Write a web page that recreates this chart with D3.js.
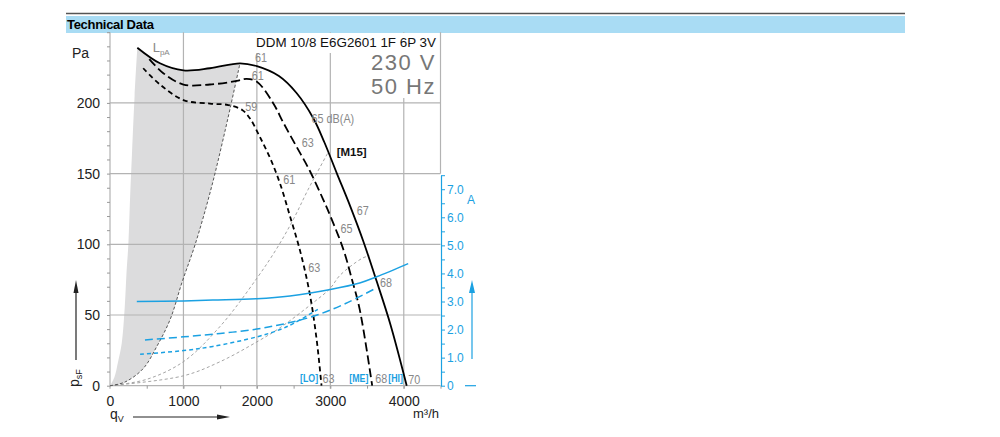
<!DOCTYPE html>
<html>
<head>
<meta charset="utf-8">
<script src="https://cdn.jsdelivr.net/npm/d3@7"></script>
<style>
body { margin: 0; background: #fff; }
svg { display: block; font-family: "Liberation Sans", Arial, sans-serif; }
</style>
</head>
<body>
<svg id="chart" width="1000" height="437"></svg>
<script>
// axis ticks
const qTicks = [0, 1000, 2000, 3000, 4000];
const paTicks = [0, 50, 100, 150, 200];
const ampTicks = [0, 1, 2, 3, 4, 5, 6, 7];

// pressure curves [m3/h, Pa]
const hiCurve = [[372, 239], [680, 228], [1000, 223], [1360, 224.5], [1770, 228], [2000, 226], [2300, 219], [2540, 207],
    [2770, 189], [2920, 172], [3090, 150], [3270, 127], [3450, 102], [3630, 74], [3820, 43], [4040, 0]];
const meCurve = [[535, 231], [726, 221], [1000, 213], [1360, 213], [1725, 215.5], [1860, 217], [2000, 215], [2220, 200],
    [2360, 186], [2540, 169], [2720, 152], [2900, 132], [3000, 120], [3180, 96], [3300, 74], [3400, 54], [3570, 0]];
const loCurve = [[452, 224.5], [680, 213], [1000, 202], [1360, 199.5], [1610, 198.5], [1800, 195], [1906, 189], [2040, 176],
    [2180, 161], [2315, 143], [2450, 120], [2590, 95], [2720, 65], [2815, 32], [2880, 0]];

// left edge of the shaded area and the dashed system lines
const lpaEdge = [[0, 0], [60, 6], [110, 17], [160, 30], [200, 55], [225, 80], [250, 100], [275, 135], [300, 165], [335, 205], [372, 239]];
const peakLine = [[0, 0], [200, 2.5], [450, 12], [640, 28], [820, 47], [980, 73], [1160, 100], [1370, 138], [1570, 181], [1770, 228]];
const systemA = [[0, 0], [500, 4.5], [1000, 17], [1500, 42], [2000, 76], [2270, 97], [2500, 118], [2700, 139], [2980, 166]];
const systemB = [[0, 0], [1000, 7], [1500, 17], [2000, 31], [2315, 41], [2750, 58], [3000, 69], [3130, 78], [3430, 90], [3530, 92]];

// current curves [m3/h, A]
const hiAmps = [[365, 3.0], [1000, 3.02], [1400, 3.05], [2000, 3.1], [2450, 3.2], [3000, 3.43], [3400, 3.66], [3630, 3.88], [4060, 4.35]];
const meAmps = [[476, 1.63], [1000, 1.74], [1500, 1.86], [2000, 2.02], [2400, 2.22], [2800, 2.5], [3200, 2.92], [3610, 3.46]];
const loAmps = [[410, 1.12], [1000, 1.25], [1400, 1.4], [2000, 1.74], [2315, 2.0], [2500, 2.22], [2830, 2.72]];

// sound level labels [m3/h, Pa, text]
const dbLabels = [[1975, 229, '61'], [1930, 216, '61'], [1840, 194, '59'], [2745, 185.5, '65 dB(A)'], [2610, 168.5, '63'],
    [2360, 142.5, '61'], [3360, 120.5, '67'], [3140, 108, '65'], [2700, 80.5, '63'], [3675, 70, '68'],
    [2895, 1.7, '63'], [3610, 1.7, '68'], [4060, 1.2, '70']];
const speedLabels = [[2587, '[LO]'], [3258, '[ME]'], [3789, '[HI]']];

const blue = '#1ba1e2';
const svg = d3.select('#chart');

const x = d3.scaleLinear().domain([0, 4500]).range([110, 440.5]);
const y = d3.scaleLinear().domain([0, 250]).range([385.7, 32.2]);
const yA = d3.scaleLinear().domain([0, 7.5]).range([385.7, 175.2]);

const line = d3.line().x(d => x(d[0])).y(d => y(d[1])).curve(d3.curveCatmullRom);
const lineA = d3.line().x(d => x(d[0])).y(d => yA(d[1])).curve(d3.curveCatmullRom);

// squeeze text to look like a condensed face
function narrow(sel) {
    sel.each(function() {
        const w = this.getComputedTextLength();
        d3.select(this).attr('textLength', w * 0.8).attr('lengthAdjust', 'spacingAndGlyphs');
    });
}

// header
svg.append('line').attr('x1', 66).attr('x2', 905).attr('y1', 13.5).attr('y2', 13.5)
    .attr('stroke', '#555').attr('stroke-width', 1.5);
svg.append('rect').attr('x', 66).attr('y', 16).attr('width', 839).attr('height', 17).attr('fill', '#a9dcf4');
svg.append('text').attr('x', 67).attr('y', 29).style('font-weight', 'bold').style('font-size', '13px')
    .style('letter-spacing', '-0.3px').text('Technical Data');

// shaded area
const fillPath = line(lpaEdge)
    + line(hiCurve.filter(d => d[0] <= 1770)).replace(/^M/, 'L')
    + line(peakLine.slice().reverse()).replace(/^M/, 'L') + 'Z';
svg.append('path').attr('d', fillPath).attr('fill', '#dcdcdd');

// grid
const grid = svg.append('g').attr('stroke', '#b3b3b3').attr('stroke-width', 1.2);
grid.selectAll('.v').data(qTicks.slice(1)).join('line')
    .attr('x1', d => x(d)).attr('x2', d => x(d)).attr('y1', y(250)).attr('y2', y(0) + 3);
grid.selectAll('.h').data(paTicks.slice(1)).join('line')
    .attr('x1', x(0)).attr('x2', x(4500)).attr('y1', d => y(d)).attr('y2', d => y(d));
grid.append('line').attr('x1', x(0)).attr('x2', x(4500)).attr('y1', y(0)).attr('y2', y(0));
grid.append('line').attr('x1', x(0)).attr('x2', x(0)).attr('y1', y(250)).attr('y2', y(0) + 3);
grid.append('line').attr('x1', x(4500)).attr('x2', x(4500)).attr('y1', y(250)).attr('y2', y(150));

// minor ticks
const minorY = svg.append('g').attr('transform', `translate(${x(0)},0)`)
    .call(d3.axisLeft(y).tickValues(d3.range(0, 251, 10)).tickSize(3).tickFormat(''));
const minorX = svg.append('g').attr('transform', `translate(0,${y(0)})`)
    .call(d3.axisBottom(x).tickValues(d3.range(500, 4501, 500)).tickSize(3).tickFormat(''));
[minorY, minorX].forEach(g => {
    g.select('.domain').remove();
    g.selectAll('line').attr('stroke', '#999');
});

// tick labels
const yAxis = svg.append('g').attr('transform', `translate(${x(0)},0)`)
    .call(d3.axisLeft(y).tickValues(paTicks).tickSize(0).tickPadding(10));
const xAxis = svg.append('g').attr('transform', `translate(0,${y(0)})`)
    .call(d3.axisBottom(x).tickValues(qTicks).tickSize(0).tickPadding(10).tickFormat(d3.format('d')));
[yAxis, xAxis].forEach(g => {
    g.select('.domain').remove();
    g.selectAll('text').attr('fill', '#222').style('font-size', '14px').style('font-family', '"Liberation Sans", Arial, sans-serif');
});

// white box behind the title
svg.append('rect').attr('x', 252).attr('y', 33).attr('width', 187).attr('height', 20).attr('fill', '#fff');
svg.append('rect').attr('x', 365).attr('y', 52).attr('width', 74).attr('height', 46).attr('fill', '#fff');

// system lines
svg.append('path').attr('d', line(systemA)).attr('fill', 'none').attr('stroke', '#9a9a9a')
    .attr('stroke-width', 0.9).attr('stroke-dasharray', '3,2.5');
svg.append('path').attr('d', line(systemB)).attr('fill', 'none').attr('stroke', '#9a9a9a')
    .attr('stroke-width', 0.9).attr('stroke-dasharray', '3,2.5');
svg.append('path').attr('d', line(peakLine)).attr('fill', 'none').attr('stroke', '#444')
    .attr('stroke-width', 0.9).attr('stroke-dasharray', '3,2');

// pressure curves
svg.append('path').attr('d', line(hiCurve)).attr('fill', 'none').attr('stroke', '#000').attr('stroke-width', 1.8);
svg.append('path').attr('d', line(meCurve)).attr('fill', 'none').attr('stroke', '#000').attr('stroke-width', 1.8)
    .attr('stroke-dasharray', '9,4');
svg.append('path').attr('d', line(loCurve)).attr('fill', 'none').attr('stroke', '#000').attr('stroke-width', 1.8)
    .attr('stroke-dasharray', '5,3.5');

// current curves
svg.append('path').attr('d', lineA(hiAmps)).attr('fill', 'none').attr('stroke', blue).attr('stroke-width', 1.5);
svg.append('path').attr('d', lineA(meAmps)).attr('fill', 'none').attr('stroke', blue).attr('stroke-width', 1.5)
    .attr('stroke-dasharray', '8,4');
svg.append('path').attr('d', lineA(loAmps)).attr('fill', 'none').attr('stroke', blue).attr('stroke-width', 1.5)
    .attr('stroke-dasharray', '4,3');

// current axis
const ampAxis = svg.append('g').attr('transform', `translate(${x(4500) + 0.5},0)`)
    .call(d3.axisRight(yA).tickValues(d3.range(0, 7.51, 0.5)).tickSize(4).tickSizeOuter(0).tickPadding(2)
        .tickFormat(d => ampTicks.includes(d) ? (d === 0 ? '0' : d.toFixed(1)) : ''));
ampAxis.select('.domain').attr('stroke', blue).attr('stroke-width', 1.2);
ampAxis.selectAll('line').attr('stroke', blue);
ampAxis.selectAll('text').attr('fill', blue).style('font-size', '12px');

svg.append('text').attr('x', 467).attr('y', 204).attr('fill', blue).style('font-size', '12px').text('A');
svg.append('line').attr('x1', 472).attr('x2', 472).attr('y1', 359).attr('y2', 290).attr('stroke', blue).attr('stroke-width', 1.2);
svg.append('path').attr('d', 'M472,280 L469,293 L475,293 Z').attr('fill', blue);
svg.append('line').attr('x1', 465).attr('x2', 476).attr('y1', yA(0)).attr('y2', yA(0)).attr('stroke', blue).attr('stroke-width', 1.2);

// labels
svg.append('g').selectAll('text').data(dbLabels).join('text')
    .attr('x', d => x(d[0])).attr('y', d => y(d[1]))
    .attr('fill', '#888').style('font-size', '13.5px').text(d => d[2])
    .call(narrow);
svg.append('g').selectAll('text').data(speedLabels).join('text')
    .attr('x', d => x(d[0])).attr('y', y(0) - 4)
    .attr('fill', blue).style('font-size', '11px').style('font-weight', 'bold').text(d => d[1])
    .call(narrow);
svg.append('text').attr('x', x(3086)).attr('y', y(162.4)).style('font-size', '11.5px').style('font-weight', 'bold')
    .attr('fill', '#111').text('[M15]');

const lpa = svg.append('text').attr('x', x(581)).attr('y', y(236.2))
    .attr('fill', '#888').style('font-size', '13px');
lpa.append('tspan').text('L');
lpa.append('tspan').attr('dy', 3).style('font-size', '8px').text('pA');

// title
svg.append('text').attr('x', 436).attr('y', 46.5).attr('text-anchor', 'end').attr('fill', '#111')
    .style('font-size', '13.4px').text('DDM 10/8 E6G2601 1F 6P 3V');
svg.append('text').attr('x', 436).attr('y', 70).attr('text-anchor', 'end').attr('fill', '#777')
    .style('font-size', '22px').style('letter-spacing', '1.5px').text('230 V');
svg.append('text').attr('x', 436).attr('y', 93.5).attr('text-anchor', 'end').attr('fill', '#777')
    .style('font-size', '22px').style('letter-spacing', '1.5px').text('50 Hz');

// axis names
svg.append('text').attr('x', 72).attr('y', 58).attr('fill', '#222').style('font-size', '14px').text('Pa');
svg.append('text').attr('x', 413).attr('y', 418).attr('fill', '#222').style('font-size', '13px').text('m³/h');

const qv = svg.append('text').attr('x', 110).attr('y', 419).attr('fill', '#222').style('font-size', '14px');
qv.append('tspan').text('q');
qv.append('tspan').attr('dy', 3).style('font-size', '9px').text('V');
svg.append('line').attr('x1', 133).attr('x2', 218).attr('y1', 417).attr('y2', 417).attr('stroke', '#222').attr('stroke-width', 1.2);
svg.append('path').attr('d', 'M230,417 L217,414.5 L217,419.5 Z').attr('fill', '#222');

const psf = svg.append('text').attr('transform', 'translate(79,387) rotate(-90)').attr('fill', '#222').style('font-size', '14px');
psf.append('tspan').text('p');
psf.append('tspan').attr('dy', 3).style('font-size', '9px').text('sF');
svg.append('line').attr('x1', 76).attr('x2', 76).attr('y1', 360).attr('y2', 292).attr('stroke', '#222').attr('stroke-width', 1.2);
svg.append('path').attr('d', 'M76,280 L73.5,293 L78.5,293 Z').attr('fill', '#222');
</script>
</body>
</html>
